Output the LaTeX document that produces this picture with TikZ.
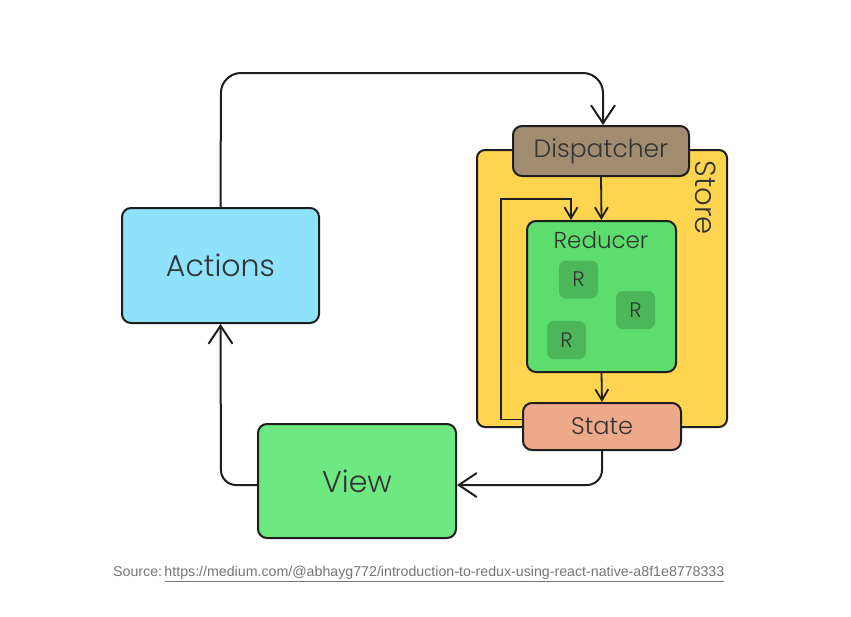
\documentclass[tikz,border=0pt]{standalone}
\usepackage{fontspec}
\IfFontExistsTF{Poppins Light}{\newfontfamily\diag{Poppins Light}}{\newfontfamily\diag{Poppins}}
\newfontfamily\capfont{Liberation Sans}
\usetikzlibrary{arrows.meta}
\definecolor{linec}{HTML}{1E1E1E}
\definecolor{textc}{HTML}{333333}
\definecolor{actc}{HTML}{8EE2FC}
\definecolor{viewc}{HTML}{6EE880}
\definecolor{dispc}{HTML}{A28C71}
\definecolor{storec}{HTML}{FFD44F}
\definecolor{redc}{HTML}{5CDD6E}
\definecolor{rc}{HTML}{4BB759}
\definecolor{statec}{HTML}{EEA88A}
\definecolor{capc}{HTML}{757575}
\tikzset{
  box/.style={draw=linec, line width=2pt, rounded corners=9pt, text=textc, inner sep=0pt, font=\diag},
  rbox/.style={fill=rc, rounded corners=7pt, minimum width=39pt, minimum height=38pt, inner sep=0pt, text=textc, font=\diag\fontsize{21}{24}\selectfont},
  conn/.style={draw=linec, line width=2pt, -{Straight Barb[length=18pt,width=24pt,line width=2pt]}},
  small/.style={draw=linec, line width=1.8pt, -{Straight Barb[length=11pt,width=13pt,line width=1.8pt]}},
}
\begin{document}
\begin{tikzpicture}[x=1pt,y=-1pt]
\path[use as bounding box, fill=white] (0,0) rectangle (851,616);
% store
\node[box, fill=storec, rounded corners=8pt, minimum width=250pt, minimum height=277pt] (store) at (602,288.5) {};
\node[text=textc, font=\diag\fontsize{29}{32}\selectfont, rotate=-90] (storelbl) at (706,197.5) {Store};
% reducer
\node[box, fill=redc, minimum width=149pt, minimum height=151pt] (reducer) at (601.5,296.5) {};
\node[text=textc, font=\diag\fontsize{23}{28}\selectfont] (redlbl) at (601,240) {Reducer};
\node[rbox] (r1) at (578.5,279.5) {R};
\node[rbox] (r2) at (635.5,310) {R};
\node[rbox] (r3) at (566.5,340) {R};
% dispatcher and state
\node[box, fill=dispc, minimum width=176pt, minimum height=50pt, font=\diag\fontsize{25}{30}\selectfont] (disp) at (601,151) {Dispatcher};
\node[box, fill=statec, minimum width=158pt, minimum height=47pt, font=\diag\fontsize{24}{28}\selectfont] (state) at (602,426.5) {State};
% actions, view
\node[box, fill=actc, minimum width=197pt, minimum height=115pt, font=\diag\fontsize{30}{36}\selectfont] (actions) at (220.5,265.5) {Actions};
\node[box, fill=viewc, minimum width=198pt, minimum height=114pt, font=\diag\fontsize{30}{36}\selectfont] (view) at (357,481) {View};
% connectors
\coordinate (tl) at (221,73);
\coordinate (tr) at (603,73);
\draw[conn, rounded corners=20pt] (actions.north) -- (tl) -- (tr) -- (tr |- disp.north);
\draw[small] (disp.south) -- (reducer.north);
\draw[small] (reducer.south) -- (state.north);
\coordinate (lb) at (501,419.5);
\coordinate (lt) at (501,199);
\coordinate (lr) at (571,199);
\draw[small] ([yshift=7pt]state.west) -- (lb) -- (lt) -- (lr) -- (lr |- reducer.north);
\coordinate (sv) at (602,485);
\draw[conn, rounded corners=15pt] (state.south) -- (sv) -- ([yshift=-4pt]view.east);
\coordinate (va) at (221,485);
\draw[conn, rounded corners=15pt] ([yshift=-4pt]view.west) -- (va) -- (actions.south);
% caption
\node[anchor=west, inner sep=0pt, text=capc, font=\capfont\fontsize{14.2}{16}\selectfont] (cap) at (113,574) {Source:\,\underline{https://medium.com/@abhayg772/introduction-to-redux-using-react-native-a8f1e8778333}};
\end{tikzpicture}
\end{document}
